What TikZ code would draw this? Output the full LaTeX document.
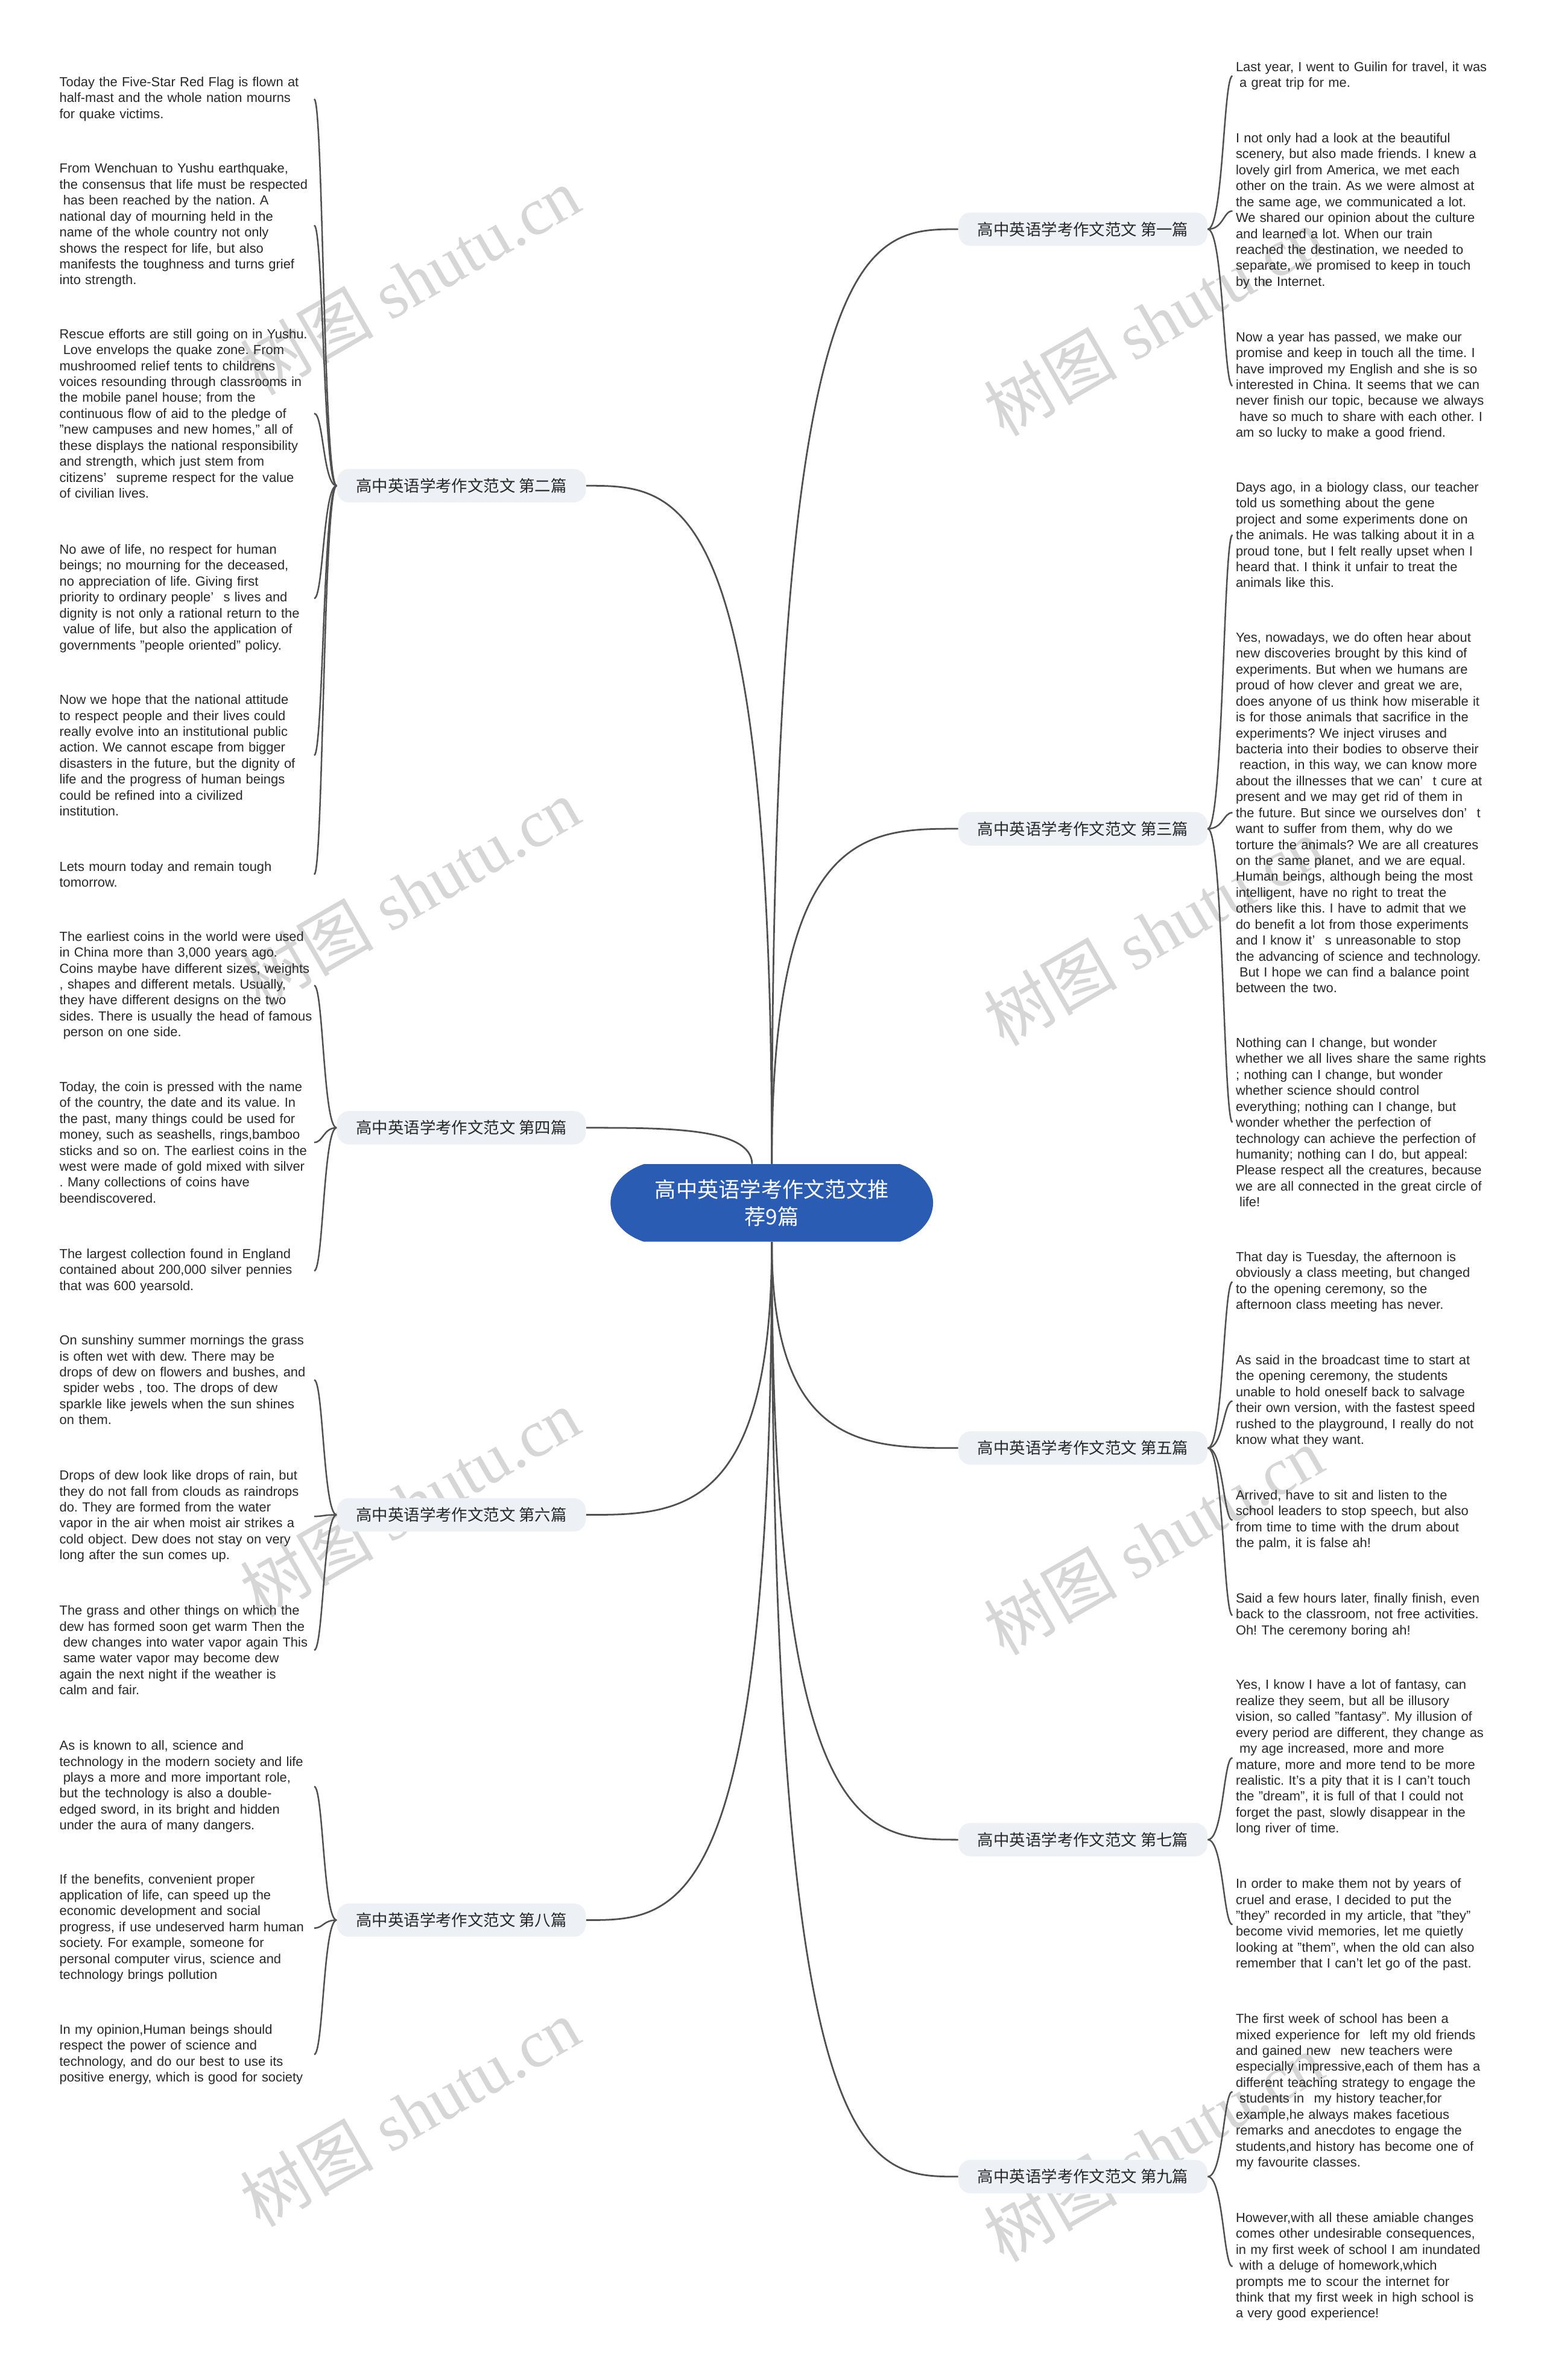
\documentclass[tikz,border=0pt]{standalone}
\usepackage{fontspec}
\setmainfont{Liberation Sans}
\newfontfamily\cjk{Noto Sans CJK SC}
\newfontfamily\wmserif{Liberation Serif}
\definecolor{rootblue}{RGB}{43,92,180}
\definecolor{branchfill}{RGB}{237,240,244}
\definecolor{linegray}{RGB}{80,80,80}
\definecolor{txt}{RGB}{40,40,40}
\definecolor{wm}{RGB}{214,214,214}
\newcommand\lsp{\hspace*{0.28em}}
\newcommand\gap{\hspace{0.75em}}
\frenchspacing
\begin{document}
\begin{tikzpicture}[x=1pt,y=-1pt,
  leaf/.style={anchor=base west,text width=200pt,align=left,inner xsep=2pt,inner ysep=0pt,
    font=\fontsize{8.7}{10.5}\selectfont,text=txt},
  branch/.style={fill=branchfill,rounded corners=8pt,minimum width=164pt,minimum height=22pt,
    inner sep=0pt,font=\cjk\fontsize{10.5}{12}\selectfont,text=txt},
  rootnode/.style={minimum width=213pt,minimum height=51pt,inner sep=0pt,align=center,
    font=\cjk\fontsize{14}{18}\selectfont,text=white},
  conn/.style={draw=linegray,line width=1.1pt},
  leafconn/.style={draw=linegray,line width=1pt},
  wmark/.style={text=wm,rotate=30,inner sep=0pt,font=\wmserif\fontsize{44}{44}\selectfont}
]
\useasboundingbox (0,0) rectangle (1017,1568);
\fill[white] (0,0) rectangle (1017,1568);

% watermarks
\node[wmark] (wm1) at (270,185) {{\cjk 树图} shutu.cn};
\node[wmark] (wm2) at (270,588) {{\cjk 树图} shutu.cn};
\node[wmark] (wm3) at (270,990) {{\cjk 树图} shutu.cn};
\node[wmark] (wm4) at (270,1392) {{\cjk 树图} shutu.cn};
\node[wmark] (wm5) at (760,212) {{\cjk 树图} shutu.cn};
\node[wmark] (wm6) at (760,614) {{\cjk 树图} shutu.cn};
\node[wmark] (wm7) at (760,1015) {{\cjk 树图} shutu.cn};
\node[wmark] (wm8) at (760,1415) {{\cjk 树图} shutu.cn};

% root
\fill[rootblue] (424,767) -- (593,767) .. controls (622,777) and (622,808) .. (593,818)
  -- (424,818) .. controls (395,808) and (395,777) .. (424,767) -- cycle;
\node[rootnode] (root) at (508.5,792.5) {高中英语学考作文范文推\\荐9篇};

% branches
\node[branch] (b1) at (713.5,151) {高中英语学考作文范文 第一篇};
\node[branch] (b3) at (713.5,546) {高中英语学考作文范文 第三篇};
\node[branch] (b5) at (713.5,954) {高中英语学考作文范文 第五篇};
\node[branch] (b7) at (713.5,1212) {高中英语学考作文范文 第七篇};
\node[branch] (b9) at (713.5,1434) {高中英语学考作文范文 第九篇};
\node[branch] (b2) at (304,320) {高中英语学考作文范文 第二篇};
\node[branch] (b4) at (304,743) {高中英语学考作文范文 第四篇};
\node[branch] (b6) at (304,998) {高中英语学考作文范文 第六篇};
\node[branch] (b8) at (304,1265) {高中英语学考作文范文 第八篇};

\coordinate (rx) at (806,0);
\coordinate (lx) at (213,0);
\coordinate (lhook) at (207,0);

% root connectors
\draw[conn] (root.north) .. controls (508.5,151) and (570,151) .. (b1.west);
\draw[conn] (root.north) .. controls (508.5,546) and (570,546) .. (b3.west);
\draw[conn] (root.north) .. controls (508.5,320) and (447,320) .. (b2.east);
\draw[conn] ([xshift=-13pt]root.north) .. controls (495,743) and (440,743) .. (b4.east);
\draw[conn] (root.south) .. controls (508.5,954) and (570,954) .. (b5.west);
\draw[conn] (root.south) .. controls (508.5,1212) and (570,1212) .. (b7.west);
\draw[conn] (root.south) .. controls (508.5,1434) and (570,1434) .. (b9.west);
\draw[conn] (root.south) .. controls (508.5,998) and (447,998) .. (b6.east);
\draw[conn] (root.south) .. controls (508.5,1265) and (447,1265) .. (b8.east);

% ---------------- left leaves ----------------
\node[leaf] (l2a) at (37,57) {Today the Five-Star Red Flag is flown at\\
half-mast and the whole nation mourns\\
for quake victims.};
\node[leaf] (l2b) at (37,114) {From Wenchuan to Yushu earthquake,\\
the consensus that life must be respected\\
\lsp has been reached by the nation. A\\
national day of mourning held in the\\
name of the whole country not only\\
shows the respect for life, but also\\
manifests the toughness and turns grief\\
into strength.};
\node[leaf] (l2c) at (37,223) {Rescue efforts are still going on in Yushu.\\
\lsp Love envelops the quake zone. From\\
mushroomed relief tents to childrens\\
voices resounding through classrooms in\\
the mobile panel house; from the\\
continuous flow of aid to the pledge of\\
"new campuses and new homes," all of\\
these displays the national responsibility\\
and strength, which just stem from\\
citizens’\gap supreme respect for the value\\
of civilian lives.};
\node[leaf] (l2d) at (37,365) {No awe of life, no respect for human\\
beings; no mourning for the deceased,\\
no appreciation of life. Giving first\\
priority to ordinary people’\gap s lives and\\
dignity is not only a rational return to the\\
\lsp value of life, but also the application of\\
governments "people oriented" policy.};
\node[leaf] (l2e) at (37,464) {Now we hope that the national attitude\\
to respect people and their lives could\\
really evolve into an institutional public\\
action. We cannot escape from bigger\\
disasters in the future, but the dignity of\\
life and the progress of human beings\\
could be refined into a civilized\\
institution.};
\node[leaf] (l2f) at (37,574) {Lets mourn today and remain tough\\
tomorrow.};

\node[leaf] (l4a) at (37,620) {The earliest coins in the world were used\\
in China more than 3,000 years ago.\\
Coins maybe have different sizes, weights\\
, shapes and different metals. Usually,\\
they have different designs on the two\\
sides. There is usually the head of famous\\
\lsp person on one side.};
\node[leaf] (l4b) at (37,719) {Today, the coin is pressed with the name\\
of the country, the date and its value. In\\
the past, many things could be used for\\
money, such as seashells, rings,bamboo\\
sticks and so on. The earliest coins in the\\
west were made of gold mixed with silver\\
. Many collections of coins have\\
beendiscovered.};
\node[leaf] (l4c) at (37,829) {The largest collection found in England\\
contained about 200,000 silver pennies\\
that was 600 yearsold.};

\node[leaf] (l6a) at (37,886) {On sunshiny summer mornings the grass\\
is often wet with dew. There may be\\
drops of dew on flowers and bushes, and\\
\lsp spider webs , too. The drops of dew\\
sparkle like jewels when the sun shines\\
on them.};
\node[leaf] (l6b) at (37,975) {Drops of dew look like drops of rain, but\\
they do not fall from clouds as raindrops\\
do. They are formed from the water\\
vapor in the air when moist air strikes a\\
cold object. Dew does not stay on very\\
long after the sun comes up.};
\node[leaf] (l6c) at (37,1064) {The grass and other things on which the\\
dew has formed soon get warm Then the\\
\lsp dew changes into water vapor again This\\
\lsp same water vapor may become dew\\
again the next night if the weather is\\
calm and fair.};

\node[leaf] (l8a) at (37,1153) {As is known to all, science and\\
technology in the modern society and life\\
\lsp plays a more and more important role,\\
but the technology is also a double-\\
edged sword, in its bright and hidden\\
under the aura of many dangers.};
\node[leaf] (l8b) at (37,1241) {If the benefits, convenient proper\\
application of life, can speed up the\\
economic development and social\\
progress, if use undeserved harm human\\
society. For example, someone for\\
personal computer virus, science and\\
technology brings pollution};
\node[leaf] (l8c) at (37,1340) {In my opinion,Human beings should\\
respect the power of science and\\
technology, and do our best to use its\\
positive energy, which is good for society};

% ---------------- right leaves ----------------
\node[leaf] (r1a) at (812,47) {Last year, I went to Guilin for travel, it was\\
\lsp a great trip for me.};
\node[leaf] (r1b) at (812,94) {I not only had a look at the beautiful\\
scenery, but also made friends. I knew a\\
lovely girl from America, we met each\\
other on the train. As we were almost at\\
the same age, we communicated a lot.\\
We shared our opinion about the culture\\
and learned a lot. When our train\\
reached the destination, we needed to\\
separate, we promised to keep in touch\\
by the Internet.};
\node[leaf] (r1c) at (812,225) {Now a year has passed, we make our\\
promise and keep in touch all the time. I\\
have improved my English and she is so\\
interested in China. It seems that we can\\
never finish our topic, because we always\\
\lsp have so much to share with each other. I\\
am so lucky to make a good friend.};

\node[leaf] (r3a) at (812,324) {Days ago, in a biology class, our teacher\\
told us something about the gene\\
project and some experiments done on\\
the animals. He was talking about it in a\\
proud tone, but I felt really upset when I\\
heard that. I think it unfair to treat the\\
animals like this.};
\node[leaf] (r3b) at (812,423) {Yes, nowadays, we do often hear about\\
new discoveries brought by this kind of\\
experiments. But when we humans are\\
proud of how clever and great we are,\\
does anyone of us think how miserable it\\
is for those animals that sacrifice in the\\
experiments? We inject viruses and\\
bacteria into their bodies to observe their\\
\lsp reaction, in this way, we can know more\\
about the illnesses that we can’\gap t cure at\\
present and we may get rid of them in\\
the future. But since we ourselves don’\gap t\\
want to suffer from them, why do we\\
torture the animals? We are all creatures\\
on the same planet, and we are equal.\\
Human beings, although being the most\\
intelligent, have no right to treat the\\
others like this. I have to admit that we\\
do benefit a lot from those experiments\\
and I know it’\gap s unreasonable to stop\\
the advancing of science and technology.\\
\lsp But I hope we can find a balance point\\
between the two.};
\node[leaf] (r3c) at (812,690) {Nothing can I change, but wonder\\
whether we all lives share the same rights\\
; nothing can I change, but wonder\\
whether science should control\\
everything; nothing can I change, but\\
wonder whether the perfection of\\
technology can achieve the perfection of\\
humanity; nothing can I do, but appeal:\\
Please respect all the creatures, because\\
we are all connected in the great circle of\\
\lsp life!};

\node[leaf] (r5a) at (812,831) {That day is Tuesday, the afternoon is\\
obviously a class meeting, but changed\\
to the opening ceremony, so the\\
afternoon class meeting has never.};
\node[leaf] (r5b) at (812,899) {As said in the broadcast time to start at\\
the opening ceremony, the students\\
unable to hold oneself back to salvage\\
their own version, with the fastest speed\\
rushed to the playground, I really do not\\
know what they want.};
\node[leaf] (r5c) at (812,988) {Arrived, have to sit and listen to the\\
school leaders to stop speech, but also\\
from time to time with the drum about\\
the palm, it is false ah!};
\node[leaf] (r5d) at (812,1056) {Said a few hours later, finally finish, even\\
back to the classroom, not free activities.\\
Oh! The ceremony boring ah!};

\node[leaf] (r7a) at (812,1113) {Yes, I know I have a lot of fantasy, can\\
realize they seem, but all be illusory\\
vision, so called "fantasy". My illusion of\\
every period are different, they change as\\
\lsp my age increased, more and more\\
mature, more and more tend to be more\\
realistic. It's a pity that it is I can't touch\\
the "dream", it is full of that I could not\\
forget the past, slowly disappear in the\\
long river of time.};
\node[leaf] (r7b) at (812,1244) {In order to make them not by years of\\
cruel and erase, I decided to put the\\
"they" recorded in my article, that "they"\\
become vivid memories, let me quietly\\
looking at "them", when the old can also\\
remember that I can't let go of the past.};

\node[leaf] (r9a) at (812,1333) {The first week of school has been a\\
mixed experience for\gap left my old friends\\
and gained new\gap new teachers were\\
especially impressive,each of them has a\\
different teaching strategy to engage the\\
\lsp students in\gap my history teacher,for\\
example,he always makes facetious\\
remarks and anecdotes to engage the\\
students,and history has become one of\\
my favourite classes.};
\node[leaf] (r9b) at (812,1464) {However,with all these amiable changes\\
comes other undesirable consequences,\\
in my first week of school I am inundated\\
\lsp with a deluge of homework,which\\
prompts me to scour the internet for\\
think that my first week in high school is\\
a very good experience!};

% ---------------- leaf connectors ----------------
\foreach \l in {r1a,r1b,r1c}
  \draw[leafconn] (b1.east) .. controls (b1.east -| rx) and (\l.west -| rx) .. (\l.west);
\foreach \l in {r3a,r3b,r3c}
  \draw[leafconn] (b3.east) .. controls (b3.east -| rx) and (\l.west -| rx) .. (\l.west);
\foreach \l in {r5a,r5b,r5c,r5d}
  \draw[leafconn] (b5.east) .. controls (b5.east -| rx) and (\l.west -| rx) .. (\l.west);
\foreach \l in {r7a,r7b}
  \draw[leafconn] (b7.east) .. controls (b7.east -| rx) and (\l.west -| rx) .. (\l.west);
\foreach \l in {r9a,r9b}
  \draw[leafconn] (b9.east) .. controls (b9.east -| rx) and (\l.west -| rx) .. (\l.west);

\foreach \l in {l2a,l2b,l2c,l2d,l2e,l2f}
  \draw[leafconn] (b2.west) .. controls (b2.west -| lx) and (\l.west -| lx) .. (\l.west -| lhook);
\foreach \l in {l4a,l4b,l4c}
  \draw[leafconn] (b4.west) .. controls (b4.west -| lx) and (\l.west -| lx) .. (\l.west -| lhook);
\foreach \l in {l6a,l6b,l6c}
  \draw[leafconn] (b6.west) .. controls (b6.west -| lx) and (\l.west -| lx) .. (\l.west -| lhook);
\foreach \l in {l8a,l8b,l8c}
  \draw[leafconn] (b8.west) .. controls (b8.west -| lx) and (\l.west -| lx) .. (\l.west -| lhook);
\end{tikzpicture}
\end{document}
